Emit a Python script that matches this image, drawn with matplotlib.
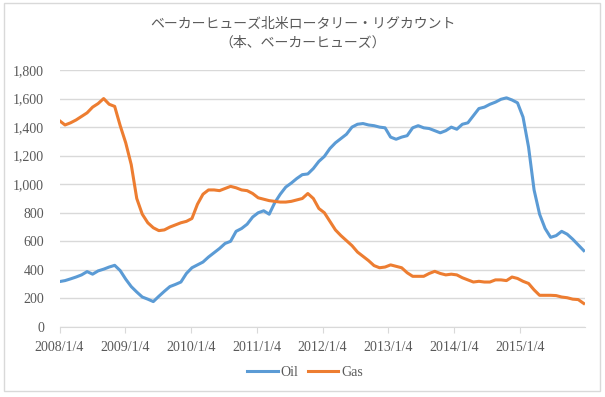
import numpy as np
import pandas as pd
import matplotlib
matplotlib.use("Agg")
import matplotlib.pyplot as plt
from matplotlib.patches import Rectangle
from matplotlib.ticker import FuncFormatter

# === DATA (monthly readings, 2008/1 .. 2015/12) ===
oil = [
    318, 325, 337, 350, 365, 388, 370, 393, 405, 420, 432, 395,        # 2008
    335, 283, 245, 210, 195, 178, 215, 250, 283, 298, 315, 375,        # 2009
    415, 435, 455, 490, 520, 550, 585, 600, 670, 690, 720, 770,        # 2010
    800, 814, 790, 870, 930, 980, 1008, 1040, 1067, 1072, 1110, 1160,  # 2011
    1195, 1250, 1290, 1320, 1350, 1400, 1420, 1425, 1415, 1410, 1400, 1395,  # 2012
    1330, 1315, 1330, 1340, 1395, 1410, 1395, 1390, 1375, 1360, 1375, 1400,  # 2013
    1385, 1420, 1430, 1480, 1530, 1540, 1560, 1575, 1595, 1605, 1590, 1570,  # 2014
    1470, 1260, 960, 790, 690, 628, 640, 670, 650, 615, 575, 535,      # 2015
]
gas = [
    1445, 1415, 1430, 1450, 1475, 1500, 1540, 1565, 1600, 1560, 1545, 1410,  # 2008
    1290, 1137, 900, 790, 730, 695, 675, 680, 700, 715, 730, 740,      # 2009
    760, 860, 930, 960, 960, 955, 970, 985, 975, 960, 955, 935,        # 2010
    905, 895, 885, 880, 875, 875, 880, 890, 900, 935, 900, 830,        # 2011
    800, 740, 680, 640, 605, 570, 525, 495, 465, 430, 415, 420,        # 2012
    435, 425, 415, 380, 355, 355, 355, 375, 390, 375, 365, 370,        # 2013
    365, 345, 330, 315, 320, 315, 315, 330, 330, 325, 350, 340,        # 2014
    320, 305, 260, 222, 222, 222, 220, 210, 205, 195, 192, 165,        # 2015
]
dates = pd.date_range("2008-01-04", "2015-12-25", periods=len(oil))
tick_dates = pd.to_datetime([f"{y}-01-04" for y in range(2008, 2016)])
tick_labels = [f"{y}/1/4" for y in range(2008, 2016)]

TITLE = "ベーカーヒューズ北米ロータリー・リグカウント\n（本、ベーカーヒューズ）"
OIL_C, GAS_C = "#5B9BD5", "#ED7D31"
GRID_C, TEXT_C = "#D9D9D9", "#595959"
SERIF = "Liberation Serif"

# === FIGURE ===
W, H = 605, 397
fig = plt.figure(figsize=(W / 100, H / 100), dpi=100)
fig.patches.append(Rectangle((4 / W, 6 / H), 596 / W, 388 / H, transform=fig.transFigure,
                             fill=False, edgecolor=GRID_C, linewidth=1))

ax = fig.add_axes([59.5 / W, (H - 327) / H, (585 - 59.5) / W, (327 - 70) / H])
ax.plot(dates, oil, color=OIL_C, linewidth=2.2, label="Oil", solid_joinstyle="round")
ax.plot(dates, gas, color=GAS_C, linewidth=2.2, label="Gas", solid_joinstyle="round")

ax.set_ylim(0, 1800)
ax.set_yticks(np.arange(0, 1801, 200))
ax.yaxis.set_major_formatter(FuncFormatter(lambda v, p: f"{int(v):,}"))
ax.set_xlim(pd.Timestamp("2008-01-04"), pd.Timestamp("2016-01-01"))
ax.set_xticks(tick_dates)
ax.set_xticklabels(tick_labels)

ax.grid(axis="y", color=GRID_C, linewidth=1)
ax.set_axisbelow(True)
for s in ["top", "right", "left"]:
    ax.spines[s].set_visible(False)
ax.spines["bottom"].set_color(GRID_C)
ax.tick_params(axis="y", length=0, pad=11, labelsize=10, labelcolor=TEXT_C)
ax.tick_params(axis="x", length=4, color=GRID_C, pad=6, labelsize=10, labelcolor=TEXT_C)
for lab in ax.get_xticklabels() + ax.get_yticklabels():
    lab.set_fontfamily(SERIF)

fig.text(0.5, 1 - 33 / H, TITLE, ha="center", va="center", fontsize=10,
         color=TEXT_C, linespacing=1.45, family=["Noto Sans CJK JP", "DejaVu Sans"])

fig.legend(loc="center", bbox_to_anchor=(305 / W, 1 - 372 / H), ncol=2, frameon=False,
           handlelength=2.2, handletextpad=0.2, columnspacing=0.7,
           prop={"family": SERIF, "size": 10}, labelcolor=TEXT_C)

fig.savefig("out.png", dpi=100)
